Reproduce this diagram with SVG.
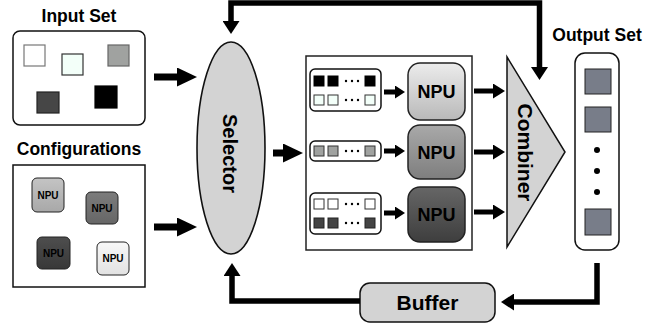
<svg xmlns="http://www.w3.org/2000/svg" width="659" height="327" viewBox="0 0 659 327">
<style>
text{font-family:"Liberation Sans",Arial,Helvetica,sans-serif;font-weight:bold;fill:#000}
.title{font-size:17.5px;text-anchor:middle}
.npuS{font-size:10px;text-anchor:middle}
.npuL{font-size:18px;text-anchor:middle}
.conn path{fill:none;stroke:#000;stroke-linejoin:miter}
.thick{stroke-width:7}
.med{stroke-width:5.5}
.thin{stroke-width:5}
.sq{stroke-width:1.2}
.cell{stroke-width:1}
</style>
<defs>
<marker id="ahBig" viewBox="0 0 20 19" markerWidth="20" markerHeight="19" refX="1" refY="9.5" orient="auto" markerUnits="userSpaceOnUse"><path d="M0,0 L20,9.5 L0,19 z" fill="#000"/></marker>
<marker id="ahV" viewBox="0 0 13 17" markerWidth="13" markerHeight="17" refX="1" refY="8.5" orient="auto-start-reverse" markerUnits="userSpaceOnUse"><path d="M0,0 L13,8.5 L0,17 z" fill="#000"/></marker>
<marker id="ahM" viewBox="0 0 12 15" markerWidth="12" markerHeight="15" refX="1" refY="7.5" orient="auto" markerUnits="userSpaceOnUse"><path d="M0,0 L12,7.5 L0,15 z" fill="#000"/></marker>
<marker id="ahS" viewBox="0 0 10 13" markerWidth="10" markerHeight="13" refX="1" refY="6.5" orient="auto" markerUnits="userSpaceOnUse"><path d="M0,0 L10,6.5 L0,13 z" fill="#000"/></marker>
<linearGradient id="gL" x1="0" y1="0" x2="0" y2="1"><stop offset="0" stop-color="#ececec"/><stop offset="1" stop-color="#b9b9b9"/></linearGradient>
<linearGradient id="gM" x1="0" y1="0" x2="0" y2="1"><stop offset="0" stop-color="#a9a9a9"/><stop offset="1" stop-color="#7e7e7e"/></linearGradient>
<linearGradient id="gD" x1="0" y1="0" x2="0" y2="1"><stop offset="0" stop-color="#666"/><stop offset="1" stop-color="#3e3e3e"/></linearGradient>
<linearGradient id="gC1" x1="0" y1="0" x2="0" y2="1"><stop offset="0" stop-color="#c4c4c4"/><stop offset="1" stop-color="#a8a8a8"/></linearGradient>
<linearGradient id="gC2" x1="0" y1="0" x2="0" y2="1"><stop offset="0" stop-color="#7c7c7c"/><stop offset="1" stop-color="#666"/></linearGradient>
<linearGradient id="gC3" x1="0" y1="0" x2="0" y2="1"><stop offset="0" stop-color="#4e4e4e"/><stop offset="1" stop-color="#383838"/></linearGradient>
<linearGradient id="gC4" x1="0" y1="0" x2="0" y2="1"><stop offset="0" stop-color="#f8f8f8"/><stop offset="1" stop-color="#e2e2e2"/></linearGradient>
</defs>
<rect width="659" height="327" fill="#fff"/>

<g id="input-set">
<text class="title" x="79" y="22">Input Set</text>
<rect x="13" y="31" width="132" height="94" rx="7" fill="#fff" stroke="#111" stroke-width="1.5"/>
<rect class="sq" x="24" y="45" width="21" height="21" fill="#fff" stroke="#777"/>
<rect class="sq" x="62" y="54" width="21" height="21" fill="#f3fff9" stroke="#333"/>
<rect class="sq" x="108" y="45" width="21" height="21" fill="#a0a2a0" stroke="#666"/>
<rect class="sq" x="37" y="92" width="22" height="21" fill="#464646" stroke="#222"/>
<rect class="sq" x="95" y="86" width="22" height="22" fill="#000" stroke="#000"/>
</g>

<g id="configurations">
<text class="title" x="79" y="155">Configurations</text>
<rect x="13" y="165" width="132" height="122" fill="#fff" stroke="#111" stroke-width="1.5"/>
<rect x="32" y="178" width="32" height="34" rx="5" fill="url(#gC1)" stroke="#222" stroke-width="1"/>
<text class="npuS" x="48" y="199">NPU</text>
<rect x="86" y="192" width="32" height="32" rx="5" fill="url(#gC2)" stroke="#222" stroke-width="1"/>
<text class="npuS" x="102" y="212">NPU</text>
<rect x="37" y="237" width="33" height="32" rx="5" fill="url(#gC3)" stroke="#222" stroke-width="1"/>
<text class="npuS" x="53.5" y="257">NPU</text>
<rect x="97" y="242" width="32" height="33" rx="5" fill="url(#gC4)" stroke="#222" stroke-width="1"/>
<text class="npuS" x="113" y="262">NPU</text>
</g>

<g id="selector">
<ellipse cx="231" cy="148" rx="34" ry="106" fill="#d3d3d3" stroke="#111" stroke-width="1.6"/>
<text transform="translate(223,153.5) rotate(90)" x="0" y="0" font-size="20" text-anchor="middle">Selector</text>
</g>

<g id="npu-panel">
<rect x="306" y="56" width="166" height="194" fill="#fff" stroke="#222" stroke-width="1.5"/>
<g id="inputs-1">
<rect x="310" y="69" width="71" height="42" rx="5" fill="#fff" stroke="#111" stroke-width="1.5"/>
<rect class="cell" x="314" y="76" width="10" height="10" fill="#000" stroke="#000"/>
<rect class="cell" x="328" y="76" width="10" height="10" fill="#000" stroke="#000"/>
<circle cx="346" cy="81" r="1.2"/><circle cx="352" cy="81" r="1.2"/><circle cx="358" cy="81" r="1.2"/>
<rect class="cell" x="365" y="76" width="10" height="10" fill="#000" stroke="#000"/>
<rect class="cell" x="314" y="95" width="10" height="10" fill="#f3fff9" stroke="#333"/>
<rect class="cell" x="328" y="95" width="10" height="10" fill="#f3fff9" stroke="#333"/>
<circle cx="346" cy="100" r="1.2"/><circle cx="352" cy="100" r="1.2"/><circle cx="358" cy="100" r="1.2"/>
<rect class="cell" x="365" y="95" width="10" height="10" fill="#f3fff9" stroke="#333"/>
</g>
<g id="inputs-2">
<rect x="310" y="141" width="71" height="20" rx="5" fill="#fff" stroke="#111" stroke-width="1.5"/>
<rect class="cell" x="314" y="146" width="10" height="10" fill="#a0a2a0" stroke="#333"/>
<rect class="cell" x="328" y="146" width="10" height="10" fill="#a0a2a0" stroke="#333"/>
<circle cx="346" cy="151" r="1.2"/><circle cx="352" cy="151" r="1.2"/><circle cx="358" cy="151" r="1.2"/>
<rect class="cell" x="365" y="146" width="10" height="10" fill="#a0a2a0" stroke="#333"/>
</g>
<g id="inputs-3">
<rect x="310" y="193" width="71" height="41" rx="5" fill="#fff" stroke="#111" stroke-width="1.5"/>
<rect class="cell" x="314" y="199" width="10" height="10" fill="#fff" stroke="#333"/>
<rect class="cell" x="328" y="199" width="10" height="10" fill="#fff" stroke="#333"/>
<circle cx="346" cy="204" r="1.2"/><circle cx="352" cy="204" r="1.2"/><circle cx="358" cy="204" r="1.2"/>
<rect class="cell" x="365" y="199" width="10" height="10" fill="#fff" stroke="#333"/>
<rect class="cell" x="314" y="218" width="10" height="10" fill="#444" stroke="#222"/>
<rect class="cell" x="328" y="218" width="10" height="10" fill="#444" stroke="#222"/>
<circle cx="346" cy="223" r="1.2"/><circle cx="352" cy="223" r="1.2"/><circle cx="358" cy="223" r="1.2"/>
<rect class="cell" x="365" y="218" width="10" height="10" fill="#444" stroke="#222"/>
</g>
<g id="npu-1">
<rect x="408" y="63" width="57" height="57" rx="12" fill="url(#gL)" stroke="#222" stroke-width="1.5"/>
<text class="npuL" x="436.5" y="98">NPU</text>
</g>
<g id="npu-2">
<rect x="408" y="125" width="57" height="54" rx="12" fill="url(#gM)" stroke="#222" stroke-width="1.5"/>
<text class="npuL" x="436.5" y="158.5">NPU</text>
</g>
<g id="npu-3">
<rect x="408" y="187" width="57" height="55" rx="12" fill="url(#gD)" stroke="#222" stroke-width="1.5"/>
<text class="npuL" x="436.5" y="221">NPU</text>
</g>
</g>

<g id="combiner">
<polygon points="507,57 565,152 507,247" fill="#d3d3d3" stroke="#111" stroke-width="1.5" stroke-linejoin="miter"/>
<text transform="translate(518,152.5) rotate(90)" x="0" y="0" font-size="21" text-anchor="middle">Combiner</text>
</g>

<g id="output-set">
<text class="title" x="597" y="41">Output Set</text>
<rect x="575" y="53" width="44" height="197" rx="10" fill="#fff" stroke="#111" stroke-width="1.5"/>
<rect x="585" y="69" width="26" height="25" fill="#787d89" stroke="#222" stroke-width="1"/>
<rect x="585" y="107" width="26" height="25" fill="#787d89" stroke="#222" stroke-width="1"/>
<circle cx="597" cy="150" r="3"/>
<circle cx="597" cy="171" r="3"/>
<circle cx="597" cy="192" r="3"/>
<rect x="585" y="209" width="26" height="26" fill="#787d89" stroke="#222" stroke-width="1"/>
</g>

<g id="buffer">
<rect x="360" y="283" width="135" height="39" rx="10" fill="#d3d3d3" stroke="#111" stroke-width="1.5"/>
<text x="427.5" y="310" font-size="21" text-anchor="middle">Buffer</text>
</g>

<g id="connectors" class="conn">
<path class="thick" d="M154,77 H178" marker-end="url(#ahBig)"/>
<path class="thick" d="M154,227 H178" marker-end="url(#ahBig)"/>
<path class="thick" d="M273,153 H284" marker-end="url(#ahBig)"/>
<path class="thin" d="M384,92 H396" marker-end="url(#ahS)"/>
<path class="thin" d="M384,151 H396" marker-end="url(#ahS)"/>
<path class="thin" d="M384,213 H396" marker-end="url(#ahS)"/>
<path class="thin" d="M474,91 H494" marker-end="url(#ahM)"/>
<path class="thin" d="M474,152 H494" marker-end="url(#ahM)"/>
<path class="thin" d="M474,212 H494" marker-end="url(#ahM)"/>
<path class="med" d="M231,22 V3 H539.5 V68" marker-start="url(#ahV)" marker-end="url(#ahV)"/>
<path class="med" d="M360,301 H232 V275" marker-end="url(#ahV)"/>
<path class="med" d="M597,263 V302 H513" marker-end="url(#ahV)"/>
</g>
</svg>
